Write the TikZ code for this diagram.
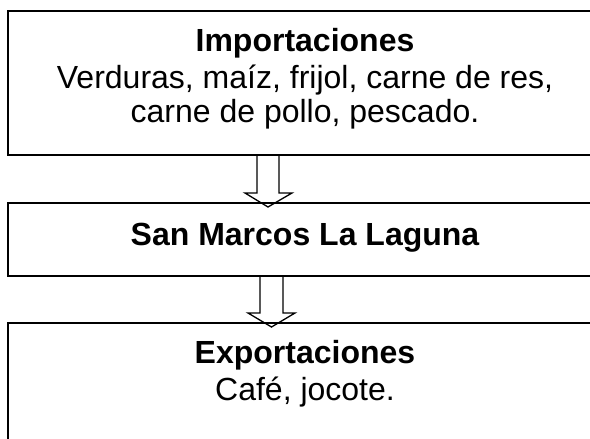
\documentclass[tikz,border=0pt]{standalone}
\usepackage{fontspec}
\setmainfont{Liberation Sans}
\usetikzlibrary{calc}
\begin{document}
\begin{tikzpicture}[x=1pt,y=-1pt,
  box/.style={minimum width=640pt,inner sep=0pt,outer sep=0pt},
  edge/.style={draw=black,line width=1.7pt,line join=miter},
  txt/.style={anchor=base,inner sep=0pt,font=\fontsize{32}{34}\selectfont},
  btxt/.style={txt,font=\fontsize{32}{34}\selectfont\bfseries},
  blockarrow/.style={draw=black,line width=1.3pt,line join=miter}]
\useasboundingbox (0,0) rectangle (590,439);
\fill[white] (0,0) rectangle (590,439);
\begin{scope}
\clip (0,0) rectangle (590,439);
% boxes (they run past the right and bottom edges of the picture)
\node[box,minimum height=144pt] (imp) at (328,83) {};
\node[box,minimum height=73pt] (san) at (328,239.5) {};
\node[box,minimum height=147pt] (exp) at (328,396.5) {};
\draw[edge] (imp.north east) -- (imp.north west) -- (imp.south west) -- (imp.south east);
\draw[edge] (san.north east) -- (san.north west) -- (san.south west) -- (san.south east);
\draw[edge] (exp.north east) -- (exp.north west) -- (exp.south west);
\end{scope}
% texts
\node[btxt] (impt) at (305,52) {Importaciones};
\node[txt] (impl1) at (305,88) {Verduras, maíz, frijol, carne de res,};
\node[txt] (impl2) at (305,122) {carne de pollo, pescado.};
\node[btxt] (sant) at (305,245) {San Marcos La Laguna};
\node[btxt] (expt) at (305,363) {Exportaciones};
\node[txt] (expl1) at (305,400) {Café, jocote.};
% block arrows
\coordinate (a1) at ($(imp.south)+(-60,0)$);
\coordinate (t1) at ($(san.north)+(-60,4)$);
\draw[blockarrow] ($(a1)+(-11,0)$) -- ($(t1)+(-11,-14)$) -- ($(t1)+(-23,-14)$) -- (t1)
  -- ($(t1)+(24,-14)$) -- ($(t1)+(11,-14)$) -- ($(a1)+(11,0)$);
\coordinate (a2) at ($(san.south)+(-56.5,0)$);
\coordinate (t2) at ($(exp.north)+(-56.5,4)$);
\draw[blockarrow] ($(a2)+(-11.5,0)$) -- ($(t2)+(-11.5,-14)$) -- ($(t2)+(-23.5,-14)$) -- (t2)
  -- ($(t2)+(23.5,-14)$) -- ($(t2)+(11.5,-14)$) -- ($(a2)+(11.5,0)$);
\end{tikzpicture}
\end{document}
